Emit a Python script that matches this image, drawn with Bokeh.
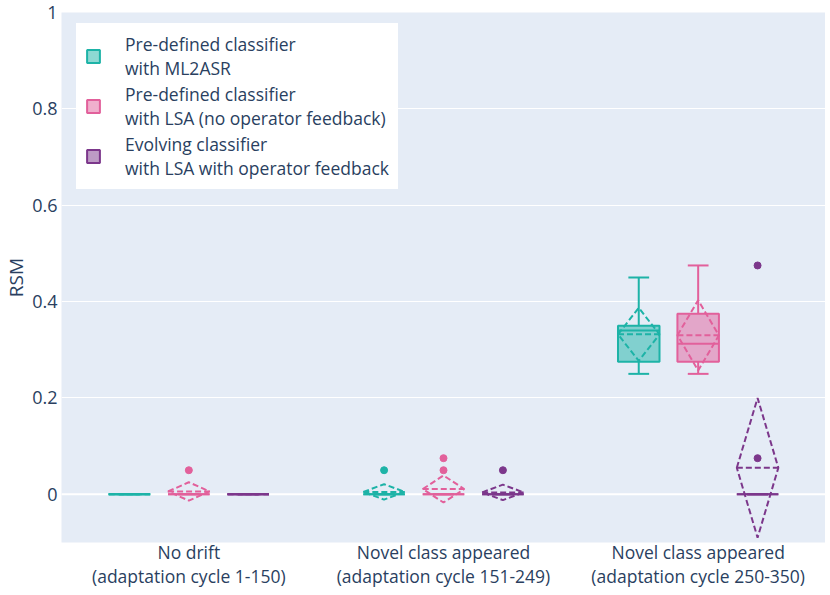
import numpy as np
from bokeh.plotting import figure
from bokeh.models import Range1d, FixedTicker, Legend, LegendItem, Span
from bokeh.embed import file_html
from bokeh.resources import INLINE

# ---------------- data ----------------
categories = [
    "No drift\n(adaptation cycle 1-150)",
    "Novel class appeared\n(adaptation cycle 151-249)",
    "Novel class appeared\n(adaptation cycle 250-350)",
]
series_names = [
    "Pre-defined classifier\nwith ML2ASR",
    "Pre-defined classifier\nwith LSA (no operator feedback)",
    "Evolving classifier\nwith LSA with operator feedback",
]
colors = ["#1DB3A7", "#E2609B", "#7C378B"]

# Pre-defined classifier with ML2ASR
ml2asr_lower = [0, 0, 0.25]
ml2asr_q1 = [0, 0, 0.275]
ml2asr_median = [0, 0, 0.34]
ml2asr_q3 = [0, 0, 0.35]
ml2asr_upper = [0, 0, 0.45]
ml2asr_mean = [0, 0.005, 0.332]
ml2asr_sd = [0, 0.016, 0.055]
ml2asr_outliers = [[], [0.05], []]

# Pre-defined classifier with LSA (no operator feedback)
lsa_lower = [0, 0, 0.25]
lsa_q1 = [0, 0, 0.275]
lsa_median = [0, 0, 0.3125]
lsa_q3 = [0, 0, 0.375]
lsa_upper = [0, 0, 0.475]
lsa_mean = [0.006, 0.011, 0.33]
lsa_sd = [0.019, 0.028, 0.073]
lsa_outliers = [[0.05], [0.05, 0.075], []]

# Evolving classifier with LSA with operator feedback
evo_lower = [0, 0, 0]
evo_q1 = [0, 0, 0]
evo_median = [0, 0, 0]
evo_q3 = [0, 0, 0]
evo_upper = [0, 0, 0]
evo_mean = [0, 0.004, 0.055]
evo_sd = [0, 0.016, 0.145]
evo_outliers = [[], [0.05], [0.075, 0.475]]

y_ticks = [0, 0.2, 0.4, 0.6, 0.8, 1]
y_tick_labels = ["0", "0.2", "0.4", "0.6", "0.8", "1"]

stats = [
    (ml2asr_lower, ml2asr_q1, ml2asr_median, ml2asr_q3, ml2asr_upper, ml2asr_mean, ml2asr_sd, ml2asr_outliers),
    (lsa_lower, lsa_q1, lsa_median, lsa_q3, lsa_upper, lsa_mean, lsa_sd, lsa_outliers),
    (evo_lower, evo_q1, evo_median, evo_q3, evo_upper, evo_mean, evo_sd, evo_outliers),
]

# ---------------- figure ----------------
FONT = "Open Sans"
TXT = "#2a3f5f"

p = figure(frame_width=764, frame_height=530, x_range=Range1d(-0.5, 2.5), y_range=Range1d(-0.1, 1.0),
           output_backend="svg", toolbar_location=None,
           min_border_left=60, min_border_right=0, min_border_top=12, min_border_bottom=0)
p.background_fill_color = "#E5ECF6"
p.border_fill_color = "white"
p.outline_line_color = None
p.xgrid.grid_line_color = None
p.ygrid.grid_line_color = "white"
p.ygrid.grid_line_width = 1

p.add_layout(Span(location=0, dimension="width", line_color="white", line_width=2, level="underlay"))

p.xaxis.ticker = FixedTicker(ticks=list(range(len(categories))))
p.xaxis.major_label_overrides = {i: c for i, c in enumerate(categories)}
p.yaxis.ticker = FixedTicker(ticks=y_ticks)
p.yaxis.major_label_overrides = {t: l for t, l in zip(y_ticks, y_tick_labels)}
p.yaxis.axis_label = "RSM"

for ax in (p.xaxis[0], p.yaxis[0]):
    ax.axis_line_color = None
    ax.major_tick_line_color = None
    ax.minor_tick_line_color = None
    ax.major_tick_out = 0
    ax.major_tick_in = 0
    ax.major_label_text_font = FONT
    ax.major_label_text_font_size = "18px"
    ax.major_label_text_color = TXT
    ax.axis_label_text_font = FONT
    ax.axis_label_text_font_style = "normal"
    ax.axis_label_text_font_size = "19px"
    ax.axis_label_text_color = TXT
p.xaxis.major_label_text_font_size = "17.5px"
p.xaxis.major_label_standoff = -3
p.xaxis.major_label_text_line_height = 1.0
p.yaxis.major_label_standoff = 4
p.yaxis.axis_label_standoff = 0

offsets = [-0.2333, 0.0, 0.2333]
bw = 0.163
cat_pos = np.arange(len(categories), dtype=float)

legend_items = []
for s, (lo, q1, med, q3, up, mean, sd, outs) in enumerate(stats):
    c = colors[s]
    x = cat_pos + offsets[s]
    lo, q1, med, q3, up, mean, sd = map(np.asarray, (lo, q1, med, q3, up, mean, sd))
    box = p.vbar(x=x, width=bw, bottom=q1, top=q3, fill_color=c, fill_alpha=0.5,
                 line_color=c, line_width=2)
    # median
    p.segment(x0=x - bw / 2, x1=x + bw / 2, y0=med, y1=med, line_color=c, line_width=2)
    # whiskers
    p.segment(x0=x, x1=x, y0=q3, y1=up, line_color=c, line_width=2)
    p.segment(x0=x, x1=x, y0=q1, y1=lo, line_color=c, line_width=2)
    p.segment(x0=x - bw / 4, x1=x + bw / 4, y0=up, y1=up, line_color=c, line_width=2)
    p.segment(x0=x - bw / 4, x1=x + bw / 4, y0=lo, y1=lo, line_color=c, line_width=2)
    # mean +- sd diamond
    xs = [[xi - bw / 2, xi, xi + bw / 2, xi] for xi in x]
    ys = [[m, m + d, m, m - d] for m, d in zip(mean, sd)]
    p.patches(xs=xs, ys=ys, fill_alpha=0, line_color=c, line_width=2, line_dash="6 3")
    p.segment(x0=x - bw / 2, x1=x + bw / 2, y0=mean, y1=mean, line_color=c,
              line_width=2, line_dash="6 3")
    # outliers
    ox = [xi for xi, o in zip(x, outs) for _ in o]
    oy = [v for o in outs for v in o]
    if ox:
        p.scatter(x=ox, y=oy, size=7, fill_color=c, line_color=c)
    legend_items.append(LegendItem(label=series_names[s], renderers=[box]))

legend = Legend(items=legend_items, location=(15, 353))
legend.label_text_font = FONT
legend.label_text_font_size = "17.5px"
legend.label_text_color = TXT
legend.label_text_line_height = 0.85
legend.glyph_width = 16
legend.glyph_height = 16
legend.label_standoff = 24
legend.padding = 8
legend.spacing = 2
legend.margin = 0
legend.border_line_color = "white"
legend.border_line_width = 1
legend.background_fill_color = "white"
legend.background_fill_alpha = 1
p.add_layout(legend, "center")

open("out.html", "w").write(file_html(p, INLINE))
